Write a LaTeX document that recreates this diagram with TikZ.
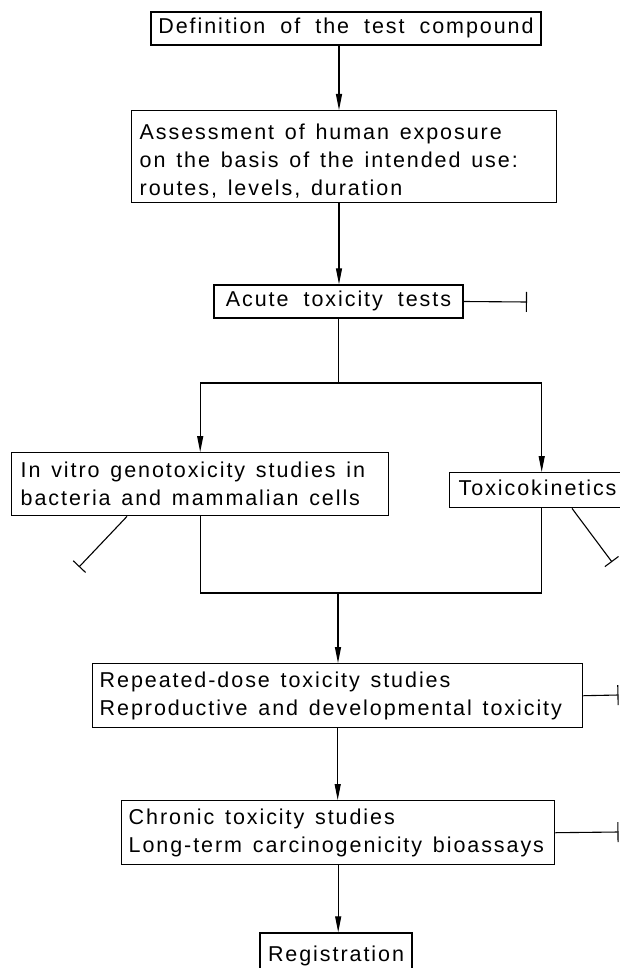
\documentclass[tikz,border=0pt]{standalone}
\usepackage{fontspec}
\setmainfont[LetterSpace=9,WordSpace=1.9]{Liberation Sans}
\usetikzlibrary{positioning,arrows.meta}

\begin{document}
\begin{tikzpicture}[x=1pt, y=-1pt, font=\fontsize{21.5}{28}\selectfont,
	box/.style={rectangle, draw, line width=1.4pt, inner ysep=0pt, inner xsep=8pt},
	one/.style={box, inner xsep=2pt, text height=15pt, text depth=5pt},
	many/.style={box, align=left, anchor=north west, execute at begin node={\spaceskip=0.5em\relax}},
	arr/.style={-{Triangle[length=16pt,width=6pt]}, line width=1.1pt},
	stop/.style={-{Bar[width=#1]}, line width=1.1pt},
	stop/.default=20pt]
	\useasboundingbox (0,0) rectangle (619,968);

	\node[one, minimum width=390pt, minimum height=33pt] (def) at (346,28.5) {Definition of the test compound};
	\node[many, text width=409pt, minimum height=92pt] (expo) at (131,110) {\rule{0pt}{25pt}Assessment of human exposure\\on the basis of the intended use:\\routes, levels, duration};
	\node[one, minimum width=249pt, minimum height=33pt] (acute) at (338.5,301.5) {Acute toxicity tests};
	\node[many, inner xsep=9pt, text width=359pt, minimum height=63pt] (geno) at (11,452) {In vitro genotoxicity studies in\\bacteria and mammalian cells};
	\node[box, anchor=north west, align=left, inner xsep=9pt, text width=166pt, text height=15pt, text depth=5pt, minimum height=35pt] (kin) at (449,472) {Toxicokinetics};
	\node[many, inner xsep=7pt, text width=476pt, minimum height=64pt] (rep) at (92,663) {Repeated-dose toxicity studies\\Reproductive and developmental toxicity};
	\node[many, inner xsep=7pt, text width=419pt, minimum height=64pt] (chr) at (121,800) {Chronic toxicity studies\\Long-term carcinogenicity bioassays};
	\node[one, minimum width=152pt, minimum height=46pt] (reg) at (336,956) {Registration};

	\coordinate (ax) at (339,0);
	\coordinate (fork) at (338,383);
	\coordinate (join) at (338,593);
	\coordinate (acutestop) at (527,302);
	\coordinate (genostop) at (79,567);
	\coordinate (kinstop) at (612,562);
	\coordinate (repstop) at (618.5,695);
	\coordinate (chrstop) at (618.5,832);

	\draw[arr] (def.south -| ax) -- (expo.north -| ax);
	\draw[arr] (expo.south -| ax) -- (acute.north -| ax);
	\draw[line width=1.1pt] (acute.south) -- (acute.south |- fork);
	\draw[arr] (fork) -| (geno.north);
	\draw[arr] (fork) -| (kin.north);
	\draw[line width=1.1pt] (geno.south) |- (join) -| (kin.south);
	\draw[arr] (join) -- (rep.north -| join);
	\draw[arr] (rep.south) -- (rep.south |- chr.north);
	\draw[arr] (chr.south) -- (chr.south |- reg.north);

	\draw[stop] (acute.east) -- (acutestop);
	\draw[stop=17pt] ([xshift=116pt]geno.south west) -- (genostop);
	\draw[stop=17pt] ([xshift=123pt]kin.south west) -- (kinstop);
	\draw[stop] (rep.east) -- (repstop);
	\draw[stop] (chr.east) -- (chrstop);
\end{tikzpicture}
\end{document}
